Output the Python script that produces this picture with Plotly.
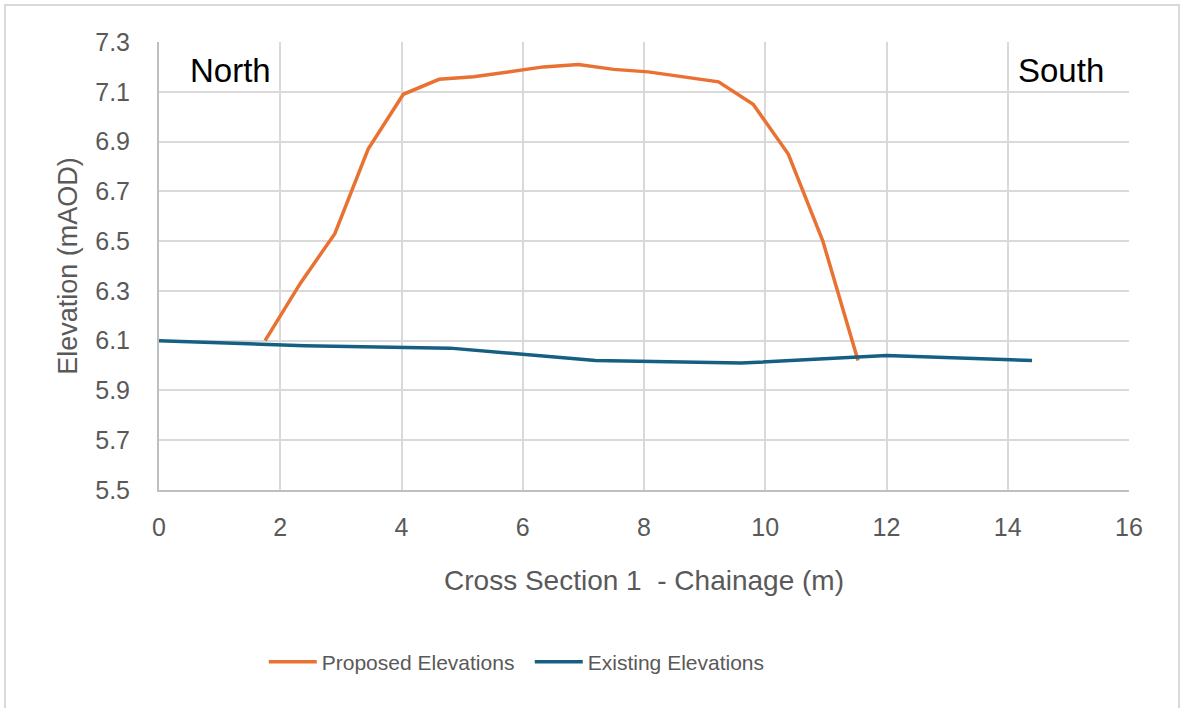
import plotly.graph_objects as go

# Data
proposed_x = [1.75, 2.33, 2.90, 3.45, 4.03, 4.62, 5.19, 5.77, 6.34, 6.92,
              7.50, 8.07, 8.65, 9.23, 9.80, 10.38, 10.95, 11.53]
proposed_y = [6.10, 6.33, 6.53, 6.87, 7.09, 7.15, 7.16, 7.18, 7.20, 7.21,
              7.19, 7.18, 7.16, 7.14, 7.05, 6.85, 6.50, 6.02]

existing_x = [0.0, 2.4, 4.8, 7.2, 9.6, 12.0, 14.4]
existing_y = [6.10, 6.08, 6.07, 6.02, 6.01, 6.04, 6.02]

x_ticks = [0, 2, 4, 6, 8, 10, 12, 14, 16]
y_ticks = [5.5, 5.7, 5.9, 6.1, 6.3, 6.5, 6.7, 6.9, 7.1, 7.3]

ORANGE = "#E97132"
BLUE = "#156082"
GRID = "#D9D9D9"
TXT = "#595959"
FONT = "Liberation Sans"

fig = go.Figure()
fig.add_trace(go.Scatter(x=proposed_x, y=proposed_y, mode="lines",
                         name="Proposed Elevations",
                         line=dict(color=ORANGE, width=3.5)))
fig.add_trace(go.Scatter(x=existing_x, y=existing_y, mode="lines",
                         name="Existing Elevations",
                         line=dict(color=BLUE, width=3.5)))

fig.update_layout(
    width=1181, height=708,
    margin=dict(l=159, r=52, t=42, b=218),
    paper_bgcolor="white", plot_bgcolor="white",
    font=dict(family=FONT, color=TXT),
    showlegend=True,
    legend=dict(orientation="h", x=0.108, xanchor="left", y=(490 - 662) / 448,
                yanchor="middle",
                font=dict(family=FONT, size=21, color=TXT),
                itemwidth=48, entrywidth=203, bgcolor="rgba(0,0,0,0)"),
)

fig.update_xaxes(range=[0, 16], tickvals=x_ticks, ticktext=[str(v) for v in x_ticks],
                 showgrid=True, gridcolor=GRID, gridwidth=2,
                 showline=True, linecolor="#BFBFBF", linewidth=2,
                 zeroline=False, ticks="", ticklabelstandoff=14,
                 tickfont=dict(family=FONT, size=25, color=TXT),
                 title=dict(text="Cross Section 1  - Chainage (m)",
                            font=dict(family=FONT, size=28, color=TXT),
                            standoff=30))
fig.update_yaxes(range=[5.5, 7.3], tickvals=y_ticks,
                 ticktext=[f"{v:.1f}" for v in y_ticks],
                 showgrid=True, gridcolor=GRID, gridwidth=2,
                 showline=True, linecolor="#BFBFBF", linewidth=2,
                 zeroline=False, ticks="", ticklabelstandoff=22,
                 tickfont=dict(family=FONT, size=25, color=TXT),
                 title=dict(text="Elevation (mAOD)",
                            font=dict(family=FONT, size=27, color=TXT),
                            standoff=10))

fig.add_annotation(text="North", xref="paper", yref="paper",
                   x=(188 - 159) / 970, y=(490 - 70) / 448,
                   xanchor="left", yanchor="middle", showarrow=False,
                   font=dict(family=FONT, size=33, color="black"))
fig.add_annotation(text="South", xref="paper", yref="paper",
                   x=(1106 - 159) / 970, y=(490 - 70) / 448,
                   xanchor="right", yanchor="middle", showarrow=False,
                   font=dict(family=FONT, size=33, color="black"))

# Outer chart-area border
fig.add_shape(type="rect", xref="paper", yref="paper",
              x0=(5 - 159) / 970, x1=(1179 - 159) / 970,
              y0=(490 - 730) / 448, y1=(490 - 5) / 448,
              line=dict(color=GRID, width=2), fillcolor="rgba(0,0,0,0)",
              layer="below")

fig.write_html("out.html", config={"displayModeBar": False},
               post_script="document.body.style.margin='0px';")
